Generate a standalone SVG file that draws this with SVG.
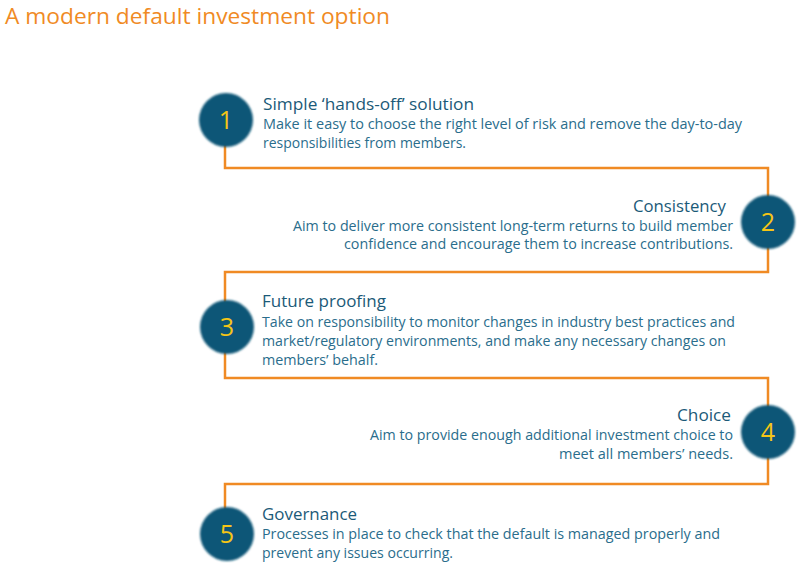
<svg xmlns="http://www.w3.org/2000/svg" width="800" height="565" viewBox="0 0 800 565">
<defs>
<filter id="soft" x="-30%" y="-30%" width="160%" height="160%">
<feGaussianBlur in="SourceGraphic" stdDeviation="1.2"/>
</filter>
<style>
.title{font-family:"Open Sans","Noto Sans",sans-serif;font-size:22px;fill:#f08a24}
.head{font-family:"Open Sans","Noto Sans",sans-serif;font-size:16px;fill:#1b5a78}
.body{font-family:"Open Sans","Noto Sans",sans-serif;font-size:14px;fill:#2a6d8c}
.num{font-family:"Open Sans","Noto Sans",sans-serif;font-size:25px;fill:#f6c516;text-anchor:middle}
.circ{fill:#0f5677;filter:url(#soft)}
.conn{fill:none;stroke:#f08a24;stroke-width:2.5}
.r{text-anchor:end}
</style>
</defs>
<rect width="800" height="565" fill="#ffffff"/>
<text class="title" x="5" y="24" textLength="385" lengthAdjust="spacingAndGlyphs">A modern default investment option</text>
<g id="connectors">
<path class="conn" d="M225,140 V168 H768 V200"/>
<path class="conn" d="M768,244 V272 H225 V305"/>
<path class="conn" d="M225,350 V378 H768 V410"/>
<path class="conn" d="M768,455 V484 H225 V512"/>
</g>
<g id="node1">
<circle class="circ" cx="226" cy="120" r="27"/>
<text class="num" x="226" y="129">1</text>
<text class="head" x="263" y="110" textLength="211" lengthAdjust="spacingAndGlyphs">Simple ‘hands-off’ solution</text>
<text class="body" x="263" y="129" textLength="479" lengthAdjust="spacingAndGlyphs">Make it easy to choose the right level of risk and remove the day-to-day</text>
<text class="body" x="263" y="148" textLength="203" lengthAdjust="spacingAndGlyphs">responsibilities from members.</text>
</g>
<g id="node2">
<circle class="circ" cx="768" cy="222" r="27"/>
<text class="num" x="768" y="231">2</text>
<text class="head r" x="726" y="212" textLength="93" lengthAdjust="spacingAndGlyphs">Consistency</text>
<text class="body r" x="733" y="231" textLength="440" lengthAdjust="spacingAndGlyphs">Aim to deliver more consistent long-term returns to build member</text>
<text class="body r" x="733" y="249" textLength="389" lengthAdjust="spacingAndGlyphs">confidence and encourage them to increase contributions.</text>
</g>
<g id="node3">
<circle class="circ" cx="227" cy="327" r="27"/>
<text class="num" x="227" y="336">3</text>
<text class="head" x="262" y="307" textLength="124" lengthAdjust="spacingAndGlyphs">Future proofing</text>
<text class="body" x="262" y="327" textLength="473" lengthAdjust="spacingAndGlyphs">Take on responsibility to monitor changes in industry best practices and</text>
<text class="body" x="262" y="346" textLength="464" lengthAdjust="spacingAndGlyphs">market/regulatory environments, and make any necessary changes on</text>
<text class="body" x="262" y="365" textLength="116" lengthAdjust="spacingAndGlyphs">members’ behalf.</text>
</g>
<g id="node4">
<circle class="circ" cx="768" cy="432" r="27"/>
<text class="num" x="768" y="441">4</text>
<text class="head r" x="731" y="421" textLength="54" lengthAdjust="spacingAndGlyphs">Choice</text>
<text class="body r" x="733" y="440" textLength="363" lengthAdjust="spacingAndGlyphs">Aim to provide enough additional investment choice to</text>
<text class="body r" x="733" y="459" textLength="174" lengthAdjust="spacingAndGlyphs">meet all members’ needs.</text>
</g>
<g id="node5">
<circle class="circ" cx="227" cy="534" r="27"/>
<text class="num" x="227" y="543">5</text>
<text class="head" x="262" y="520" textLength="95" lengthAdjust="spacingAndGlyphs">Governance</text>
<text class="body" x="262" y="539" textLength="458" lengthAdjust="spacingAndGlyphs">Processes in place to check that the default is managed properly and</text>
<text class="body" x="262" y="558" textLength="191" lengthAdjust="spacingAndGlyphs">prevent any issues occurring.</text>
</g>
</svg>
